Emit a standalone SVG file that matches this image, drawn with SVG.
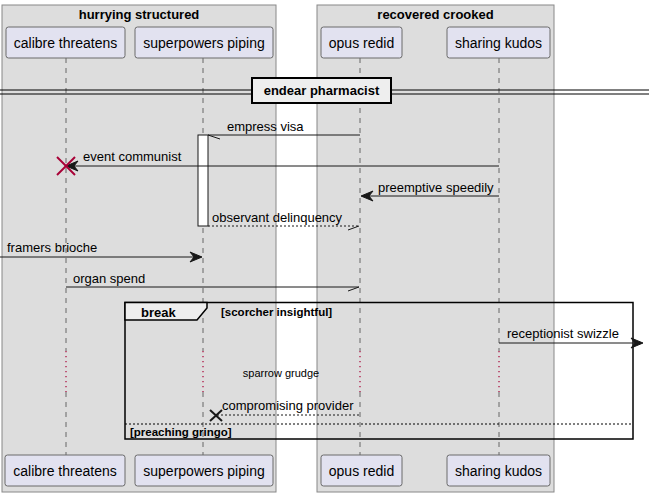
<svg xmlns="http://www.w3.org/2000/svg" width="649" height="496" viewBox="0 0 649 496">
<style>
text{font-family:"Liberation Sans",Arial,sans-serif;fill:#000}
.grp{fill:#DDDDDD;stroke:#888;stroke-width:1}
.gt{font-weight:bold;font-size:13px;text-anchor:middle}
.part{fill:#E2E2F0;stroke:#6a6a6a;stroke-width:1}
.pt{font-size:14px;text-anchor:middle}
.life{stroke:#666;stroke-width:1;stroke-dasharray:5,5}
.dly{stroke:#A80036;stroke-width:1.2;stroke-dasharray:1.2,3.8}
.msg{stroke:#181818;stroke-width:1;fill:none}
.dash{stroke-dasharray:2,2}
.head{fill:#181818;stroke:#181818;stroke-width:1}
.mt{font-size:13px}
.bt{font-weight:bold;font-size:11.5px}
</style>
<g id="group-hurrying-structured">
<rect class="grp" x="2" y="5" width="274" height="487"/>
<text class="gt" x="139" y="19">hurrying structured</text>
</g>
<g id="group-recovered-crooked">
<rect class="grp" x="317" y="5" width="237" height="487"/>
<text class="gt" x="435.5" y="19">recovered crooked</text>
</g>
<g id="lifelines">
<line class="life" x1="66" y1="58" x2="66" y2="351"/>
<line class="dly" x1="66" y1="351" x2="66" y2="392"/>
<line class="life" x1="66" y1="392" x2="66" y2="455"/>
<line class="life" x1="203" y1="58" x2="203" y2="351"/>
<line class="dly" x1="203" y1="351" x2="203" y2="392"/>
<line class="life" x1="203" y1="392" x2="203" y2="455"/>
<line class="life" x1="360" y1="58" x2="360" y2="351"/>
<line class="dly" x1="360" y1="351" x2="360" y2="392"/>
<line class="life" x1="360" y1="392" x2="360" y2="455"/>
<line class="life" x1="499" y1="58" x2="499" y2="351"/>
<line class="dly" x1="499" y1="351" x2="499" y2="392"/>
<line class="life" x1="499" y1="392" x2="499" y2="455"/>
</g>
<g id="calibre-threatens">
<rect class="part" x="6" y="27" width="119" height="31" rx="2.5"/>
<text class="pt" x="65.5" y="48">calibre threatens</text>
<rect class="part" x="5" y="455" width="120" height="31" rx="2.5"/>
<text class="pt" x="65" y="476">calibre threatens</text>
</g>
<g id="superpowers-piping">
<rect class="part" x="135" y="27" width="138" height="31" rx="2.5"/>
<text class="pt" x="204" y="48">superpowers piping</text>
<rect class="part" x="135" y="455" width="138" height="31" rx="2.5"/>
<text class="pt" x="204" y="476">superpowers piping</text>
</g>
<g id="opus-redid">
<rect class="part" x="321" y="27" width="81" height="31" rx="2.5"/>
<text class="pt" x="361.5" y="48">opus redid</text>
<rect class="part" x="321" y="455" width="81" height="31" rx="2.5"/>
<text class="pt" x="361.5" y="476">opus redid</text>
</g>
<g id="sharing-kudos">
<rect class="part" x="447" y="27" width="103" height="31" rx="2.5"/>
<text class="pt" x="498.5" y="48">sharing kudos</text>
<rect class="part" x="447" y="455" width="103" height="31" rx="2.5"/>
<text class="pt" x="498.5" y="476">sharing kudos</text>
</g>
<g id="divider-endear-pharmacist">
<line x1="0" y1="90" x2="649" y2="90" stroke="#000" stroke-width="1"/>
<line x1="0" y1="94" x2="649" y2="94" stroke="#000" stroke-width="1"/>
<rect x="252" y="78" width="139" height="25" fill="#EEEEEE" stroke="#000" stroke-width="2"/>
<text class="gt" x="321.5" y="95">endear pharmacist</text>
</g>
<g id="activation">
<rect x="198" y="135" width="10" height="91" fill="#FFFFFF" stroke="#181818" stroke-width="1"/>
</g>
<g id="break-fragment">
<rect x="125" y="302.5" width="508" height="136.5" fill="none" stroke="#000" stroke-width="1.5"/>
<path d="M125,302.5 L207,302.5 L207,308 L197,320 L125,320 Z" fill="#EEEEEE" stroke="#000" stroke-width="1.5"/>
<text x="141" y="317" font-weight="bold" font-size="13">break</text>
<text class="bt" x="221" y="316">[scorcher insightful]</text>
<line x1="125" y1="424" x2="633" y2="424" stroke="#000" stroke-width="1" stroke-dasharray="2,2"/>
<text class="bt" x="130" y="436">[preaching gringo]</text>
</g>
<g id="connectors">
<line class="msg" x1="360" y1="135" x2="208" y2="135"/>
<line class="msg" x1="208" y1="135" x2="220" y2="139"/>
<text class="mt" x="227" y="131">empress visa</text>

<line class="msg" x1="499" y1="166" x2="67" y2="166"/>
<polygon class="head" points="78,161 66,166 78,171 74,166"/>
<line x1="57" y1="157" x2="75" y2="175" stroke="#A80036" stroke-width="2"/>
<line x1="75" y1="157" x2="57" y2="175" stroke="#A80036" stroke-width="2"/>
<text class="mt" x="83" y="161">event communist</text>

<line class="msg" x1="499" y1="196" x2="362" y2="196"/>
<polygon class="head" points="373,191 361,196 373,201 369,196"/>
<text class="mt" x="378" y="192">preemptive speedily</text>

<line class="msg dash" x1="208" y1="226" x2="359" y2="226"/>
<line class="msg" x1="359" y1="226" x2="348" y2="230"/>
<text class="mt" x="212" y="222">observant delinquency</text>

<line class="msg" x1="0" y1="257" x2="201" y2="257"/>
<polygon class="head" points="190,252 202,257 190,262 194,257"/>
<text class="mt" x="7" y="252">framers brioche</text>

<line class="msg" x1="66" y1="287" x2="359" y2="287"/>
<line class="msg" x1="359" y1="287" x2="348" y2="291"/>
<text class="mt" x="73" y="283">organ spend</text>

<line class="msg" x1="499" y1="343" x2="641" y2="343"/>
<polygon class="head" points="631,338 643,343 631,348 635,343"/>
<text class="mt" x="507" y="338">receptionist swizzle</text>

<text x="281" y="377" font-size="11" text-anchor="middle">sparrow grudge</text>

<line class="msg dash" x1="359" y1="415" x2="216" y2="415"/>
<line x1="210" y1="410" x2="222" y2="421" stroke="#181818" stroke-width="2"/>
<line x1="222" y1="410" x2="210" y2="421" stroke="#181818" stroke-width="2"/>
<text class="mt" x="222" y="410">compromising provider</text>
</g>
</svg>
